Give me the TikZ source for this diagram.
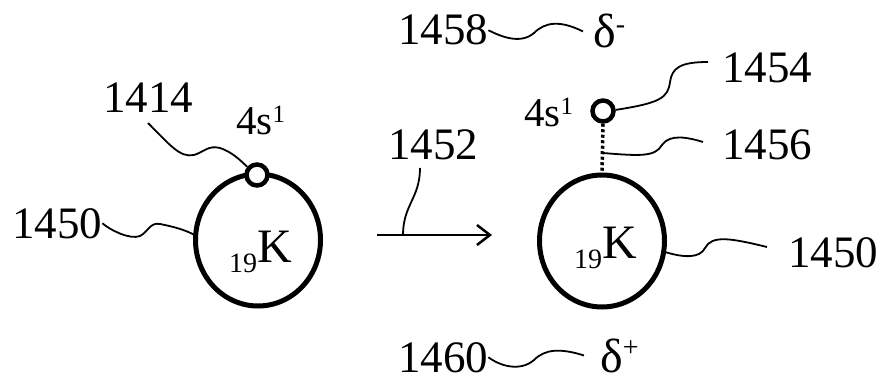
\documentclass[tikz,border=0pt]{standalone}
\usepackage{fontspec}
\setmainfont{Liberation Serif}
\usetikzlibrary{shapes.geometric,arrows.meta}
\newcommand\myfs[1]{\fontsize{#1}{#1}\selectfont}
\begin{document}
\begin{tikzpicture}[x=1pt,y=-1pt,
  num/.style={inner sep=0pt,anchor=base west,font=\myfs{45}},
  lbl/.style={inner sep=0pt,anchor=base west},
  atom/.style={draw,ellipse,line width=5pt,minimum width=125pt,minimum height=132pt,inner sep=0pt},
  orb/.style={draw,circle,fill=white,line width=4.5pt,minimum size=21pt,inner sep=0pt},
  leader/.style={line width=1.8pt},
  bond/.style={line width=3.5pt,dash pattern=on 3pt off 2.5pt}]
\useasboundingbox (0,0) rectangle (880,382);
% left atom
\node[atom] (KL) at (258,240) {};
\node[orb] (sL) at (257,175) {};
\node[lbl] (kl) at (229,262) {\raisebox{-10pt}{\myfs{28}19}\myfs{48}K};
\node[lbl] (osL) at (236,135) {\myfs{41}4s\raisebox{12pt}{\myfs{25}1}};
\node[num] (l1414) at (103,113) {1414};
\node[num] (l1450a) at (12,238) {1450};
\coordinate (c1414) at (148,123);
\draw[leader] (c1414) .. controls (170,145) and (180,158) .. (194,155)
  .. controls (204,152) and (208,145) .. (220,148)
  .. controls (232,152) and (240,160) .. (sL.140);
\draw[leader] (l1450a.east) .. controls (110,230) and (130,240) .. (140,236)
  .. controls (148,232) and (150,222) .. (160,224)
  .. controls (175,227) and (185,230) .. (KL.175);
% arrow
\coordinate (aS) at (377,235);
\coordinate (aE) at (492,235);
\draw[line width=2.5pt,-{Straight Barb[length=13pt,width=20pt]}] (aS) -- (aE);
\coordinate (aL) at (403,235);
\node[num] (l1452) at (388,160) {1452};
\coordinate (c1452) at (420,168);
\draw[leader] (aL) .. controls (403,205) and (420,198) .. (c1452);
% right atom
\node[atom] (KR) at (602,241) {};
\node[orb] (sR) at (603,111) {};
\draw[bond] (sR.south) -- (KR.north);
\node[lbl] (kr) at (574,258) {\raisebox{-10pt}{\myfs{28}19}\myfs{48}K};
\node[lbl] (osR) at (524,127) {\myfs{41}4s\raisebox{12pt}{\myfs{25}1}};
\node[num] (l1454) at (722,83) {1454};
\node[num] (l1456) at (722,160) {1456};
\node[num] (l1450b) at (788,267) {1450};
\coordinate (c1454) at (708,62);
\draw[leader] (c1454) .. controls (680,62) and (672,68) .. (670,82)
  .. controls (668,98) and (660,103) .. (sR.5);
\coordinate (c1456) at (703,142);
\coordinate (b1456) at (603,153);
\draw[leader] (c1456) .. controls (690,138) and (670,133) .. (662,145)
  .. controls (655,157) and (640,156) .. (b1456);
\coordinate (c1450b) at (767,247);
\draw[leader] (KR.-10) .. controls (685,258) and (700,258) .. (705,248)
  .. controls (712,235) and (730,238) .. (c1450b);
% charges
\node[num] (l1458) at (398,45) {1458};
\node[lbl] (dminus) at (593,48) {\myfs{48}δ\raisebox{14pt}{\myfs{28}-}};
\draw[leader] (l1458.east) .. controls (500,36) and (520,45) .. (534,33)
  .. controls (545,22) and (560,20) .. ([xshift=-10pt]dminus.west);
\node[num] (l1460) at (398,372) {1460};
\node[lbl] (dplus) at (600,372) {\myfs{48}δ\raisebox{16pt}{\myfs{28}+}};
\draw[leader] (l1460.east) .. controls (500,366) and (520,372) .. (534,360)
  .. controls (545,349) and (560,348) .. ([xshift=-16pt]dplus.west);
\end{tikzpicture}
\end{document}
